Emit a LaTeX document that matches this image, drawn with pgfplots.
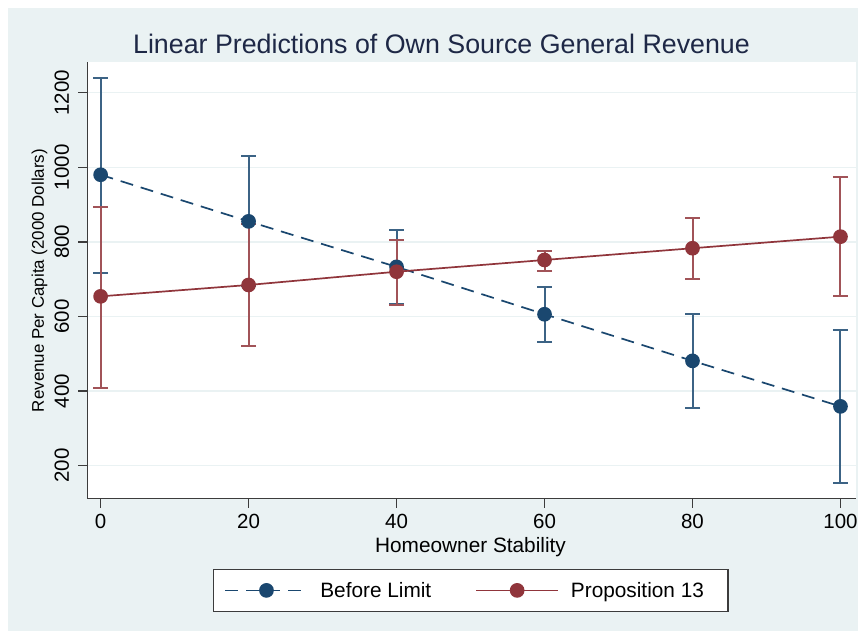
\documentclass[border=0pt]{standalone}
\usepackage{fontspec}
\setmainfont{Liberation Sans}
\usepackage{pgfplots}
\pgfplotsset{compat=1.18}
\usepackage{pgfplotstable}
\definecolor{bg}{RGB}{234,242,243}
\definecolor{sblue}{RGB}{26,71,111}
\definecolor{sred}{RGB}{144,53,59}
\definecolor{titlec}{RGB}{30,40,70}
\definecolor{axc}{RGB}{60,60,60}

\pgfplotstableread{
x y ep em
0 980 260 263
20 855 176 172
40 733 99 99
60 606 74 74
80 481 126 126
100 359 205 206
}\before
\pgfplotstableread{
x y ep em
0 654 240 245
20 684.5 164.5 164.5
40 720 84 89
60 751.5 24.5 28.5
80 783 80 83
100 814 159 160
}\propthirteen

\begin{document}
\begin{tikzpicture}
\fill[white] (0,0) rectangle (858bp,631bp);
\fill[bg] (8bp,0) rectangle (858bp,623bp);
\begin{axis}[
 at={(87.3bp,132.3bp)}, anchor=south west,
 scale only axis, width=768.7bp, height=436.4bp,
 xmin=-1.8, xmax=102.1, ymin=111.5, ymax=1281.5,
 axis background/.style={fill=white},
 axis x line*=bottom, axis y line*=left,
 axis line style={-, draw=axc, line width=1.3bp},
 xtick={0,20,...,100}, ytick={200,400,...,1200},
 tick align=outside, major tick length=9bp,
 tick style={draw=axc, line width=1.3bp},
 ymajorgrids, major grid style={draw=bg, line width=1.5bp},
 /pgf/number format/assume math mode=true,
 /pgf/number format/1000 sep={},
 ticklabel style={font=\fontsize{20.5bp}{24bp}\selectfont},
 yticklabel style={rotate=90, anchor=south, inner sep=0pt},
 xticklabel style={anchor=north, inner sep=0pt},
 yticklabel shift=9bp, xticklabel shift=6bp,
 title={Linear Predictions of Own Source General Revenue},
 title style={at={(axis description cs:0.4608,1.0206)}, anchor=base, yshift=-6pt, font=\fontsize{26.8bp}{32bp}\selectfont, text=titlec},
 xlabel={Homeowner Stability},
 xlabel style={at={(axis description cs:0.4985,-0.1244)}, anchor=base, font=\fontsize{20.8bp}{25bp}\selectfont},
 ylabel={Revenue Per Capita (2000 Dollars)},
 ylabel style={at={(axis description cs:-0.0622,0.5)}, anchor=center, font=\fontsize{16.9bp}{20bp}\selectfont},
 legend columns=2,
 legend style={at={(axis description cs:0.1635,-0.161)}, anchor=north west, draw=axc, line width=1.3bp, fill=white, inner xsep=11bp, inner ysep=10.5bp, font=\fontsize{20.8bp}{25bp}\selectfont, /tikz/every odd column/.append style={column sep=10bp}, /tikz/every even column/.append style={column sep=42bp}},
 legend image code/.code={\draw[mark repeat=2,mark phase=2,#1] plot coordinates {(0bp,0bp) (41bp,0bp) (82bp,0bp)};},
]
\addplot[forget plot, only marks, mark=none, line width=2bp, error bars/.cd, y dir=both, y explicit,
  error bar style={draw=sblue!85!white, line width=2bp, solid},
  error mark options={draw=sblue!85!white, line width=2bp, mark size=7.5bp, rotate=90}]
  table[x=x,y=y,y error plus=ep,y error minus=em]{\before};
\addplot[forget plot, only marks, mark=none, line width=2bp, error bars/.cd, y dir=both, y explicit,
  error bar style={draw=sred!85!white, line width=2bp, solid},
  error mark options={draw=sred!85!white, line width=2bp, mark size=7.5bp, rotate=90}]
  table[x=x,y=y,y error plus=ep,y error minus=em]{\propthirteen};
\addplot[draw=sblue, line width=1.7bp, dash pattern=on 13bp off 8bp, mark=*, mark size=6.5bp, mark options={solid, fill=sblue, draw=sblue}]
  table[x=x,y=y]{\before};
\addlegendentry{Before Limit}
\addplot[draw=sred, line width=1.7bp, mark=*, mark size=6.5bp, mark options={solid, fill=sred, draw=sred}]
  table[x=x,y=y]{\propthirteen};
\addlegendentry{Proposition 13\hspace*{11bp}}
\end{axis}
\pgfresetboundingbox
\useasboundingbox (0,0) rectangle (858bp,631bp);
\end{tikzpicture}
\end{document}
